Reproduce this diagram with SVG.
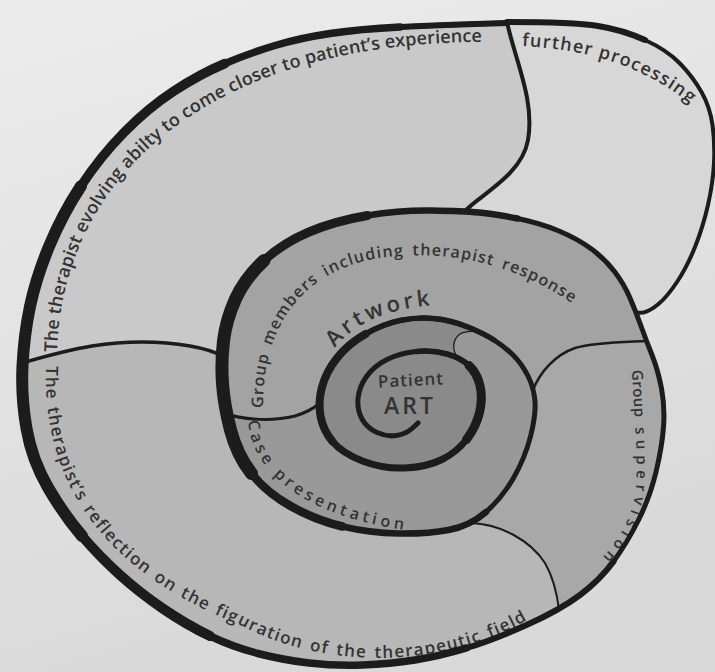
<svg xmlns="http://www.w3.org/2000/svg" width="715" height="672" viewBox="0 0 715 672">
<style>
.sp{fill:none;stroke:#1c1c1c;stroke-linecap:round;stroke-linejoin:round}
.dv{fill:none;stroke:#1c1c1c;stroke-linecap:round}
.lbl{font-family:"Open Sans","DejaVu Sans",sans-serif;font-weight:600;fill:#333}
</style>
<defs>
<linearGradient id="bg" x1="0" y1="0" x2="0.3" y2="1">
<stop offset="0" stop-color="#ececec"/>
<stop offset="1" stop-color="#d9d9d9"/>
</linearGradient>
<path id="tp1" d="M57,352 C60,250 110,165 200,110 S400,40 508,42"/>
<path id="tp2" d="M522,46 C580,49 645,62 702,114"/>
<path id="tp3" d="M46,366 C42,480 100,570 240,625 C335,675 465,668 552,604"/>
<path id="tp4" d="M263,408 C262,330 300,270 380,258 C440,250 510,258 582,310"/>
<path id="tp5" d="M248,421 C252,470 300,515 405,530"/>
<path id="tp6" d="M335,348 C355,322 390,306 452,304"/>
<path id="tp9" d="M632,370 C634,420 640,470 634,500 C628,530 605,560 576,580"/>
</defs>
<rect width="715" height="672" fill="url(#bg)"/>

<g id="therapist-evolving">
<path fill="#c9c9c9" d="M507,23 Q440,25 400,27 Q360,29 330,33.5 Q300,38 275,45.5 Q250,53 225,63.5 Q200,74 174,91 Q148,108 124,132.5 Q100,157 81,186 Q62,215 49,246.5 Q36,278 30,306.5 Q24,335 22.5,366 Q21,397 26.5,428.5 Q32,460 48,487.5 Q64,515 82,536 Q100,557 120,575 Q140,593 163.5,609 Q187,625 210,636 Q233,647 258,653.5 Q283,660 309,663 Q335,666 362.5,665 Q390,664 415,660 Q440,656 466.5,648 Q493,640 526.5,625 Q560,610 580,595 Q600,580 613.5,561.5 Q627,543 638.5,520 Q650,497 656,472 Q662,447 663.5,427 Q665,407 661.5,388.5 Q658,370 652,355 Q646,340 641,326 Q636,312 630,298 Q624,284 614.5,271.5 Q605,259 591.5,249 Q578,239 559,231 Q540,223 517.5,218.5 Q495,214 479,212.5 L465,211 C480,195 522,175 528,140 C535,100 515,60 507,22 Z"/>
<text class="lbl" font-size="18" letter-spacing="0.1"><textPath href="#tp1">The therapist evolving abilty to come closer to patient’s experience</textPath></text>
</g>

<g id="further-processing">
<path fill="#d7d7d7" d="M507,22 Q573,22 598,26 Q623,30 645,40 Q667,50 680,63.5 Q693,77 701.5,92 Q710,107 712.5,125 Q715,143 714,163 Q713,183 708,205 Q703,227 695,247 Q687,267 677,282 Q667,297 658.5,304 Q650,311 643.5,312.5 L636,313 L630,298 Q624,284 614.5,271.5 Q605,259 591.5,249 Q578,239 559,231 Q540,223 517.5,218.5 Q495,214 479,212.5 L465,211 C480,195 522,175 528,140 C535,100 515,60 507,22 Z"/>
<text class="lbl" font-size="18" letter-spacing="1.2"><textPath href="#tp2">further processing</textPath></text>
</g>

<g id="therapist-reflection">
<path fill="#b7b7b7" d="M22,363 Q67,350 92,346 Q117,342 142,342 Q167,342 190,346 Q213,350 224,357 L222.5,383.5 Q224,405 230.5,430 Q237,455 251.5,473.5 Q266,492 290.5,506 Q315,520 342.5,526.5 Q370,533 398.5,533.5 Q427,534 448.5,530 L471,523 C500,524 530,540 545,563 C553,577 557,593 559,610 L526.5,625 Q493,640 466.5,648 Q440,656 415,660 Q390,664 362.5,665 Q335,666 309,663 Q283,660 258,653.5 Q233,647 210,636 Q187,625 163.5,609 Q140,593 120,575 Q100,557 82,536 Q64,515 48,487.5 Q32,460 26.5,428.5 Q21,397 22.5,366 Z"/>
<text class="lbl" font-size="17" letter-spacing="1.3" word-spacing="2"><textPath href="#tp3">The therapist’s reflection on the figuration of the therapeutic field</textPath></text>
</g>

<g id="group-supervision">
<path fill="#a8a8a8" d="M471,523 C500,524 530,540 545,563 C553,577 557,593 559,610 L580,595 Q600,580 613.5,561.5 Q627,543 638.5,520 Q650,497 656,472 Q662,447 663.5,427 Q665,407 661.5,388.5 Q658,370 652,355 L646,341 C625,342 595,342 575,348 C555,355 540,372 533,390 L535,401.5 Q536,415 530.5,436.5 Q525,458 513.5,478 Q502,498 486,512 Z"/>
<text class="lbl" font-size="15"><textPath href="#tp9"><tspan letter-spacing="0.5">Group</tspan><tspan letter-spacing="5.5"> supervision</tspan></textPath></text>
</g>

<g id="group-members">
<path fill="#a3a3a3" d="M646,341 L641,326 Q636,312 630,298 Q624,284 614.5,271.5 Q605,259 591.5,249 Q578,239 559,231 Q540,223 517.5,218.5 Q495,214 479,212.5 Q463,211 431.5,210.5 Q400,210 367.5,215.5 Q335,221 309,232 Q283,243 264,260.5 Q245,278 235.5,299 Q226,320 223.5,341 Q221,362 222.5,383.5 Q224,405 230.5,430 Q237,455 251.5,473.5 Q266,492 290.5,506 Q315,520 342.5,526.5 Q370,533 398.5,533.5 Q427,534 448.5,530 Q470,526 486,512 Q502,498 513.5,478 Q525,458 530.5,436.5 Q536,415 535,401.5 L533,390 C540,372 555,355 575,348 C595,342 625,342 646,341 Z"/>
<text class="lbl" font-size="16" letter-spacing="1.2" word-spacing="3"><textPath href="#tp4">Group members including therapist response</textPath></text>
<text class="lbl" font-size="22" font-weight="700" letter-spacing="3.5"><textPath href="#tp6">Artwork</textPath></text>
</g>

<g id="case-presentation">
<path fill="#999999" d="M224,413 L230.5,430 Q237,455 251.5,473.5 Q266,492 290.5,506 Q315,520 342.5,526.5 Q370,533 398.5,533.5 Q427,534 448.5,530 Q470,526 486,512 Q502,498 513.5,478 Q525,458 530.5,436.5 Q536,415 535,401.5 Q534,388 528,376 Q522,364 513.5,355.5 Q505,347 494,340 Q483,333 466.5,326.5 Q450,320 433.5,318.5 Q417,317 400,320.5 Q383,324 365.5,334 Q348,344 337,358 Q326,372 322,387 L320,403 C313,409 305,413 295,416 C275,421 245,421 224,413 Z"/>
<text class="lbl" font-size="16" letter-spacing="4"><textPath href="#tp5">Case presentation</textPath></text>
</g>

<g id="patient-art">
<path fill="#8a8a8a" d="M481,332 L466.5,326.5 Q450,320 433.5,318.5 Q417,317 400,320.5 Q383,324 365.5,334 Q348,344 337,358 Q326,372 322,387 Q318,402 320.5,416 Q323,430 332.5,441.5 Q342,453 362.5,461 Q383,469 405,468 Q427,467 442,459.5 Q457,452 466.5,439.5 Q476,427 479.5,412.5 Q483,398 480,385.5 Q477,373 469,365.5 L458,359 C452,350 452,340 460,334 C466,330 474,331 481,332 Z"/>
<text class="lbl" font-size="17" letter-spacing="1" x="411" y="386" text-anchor="middle" transform="rotate(-3 411 380)">Patient</text>
<text class="lbl" font-size="23" letter-spacing="3" x="410" y="414" text-anchor="middle">ART</text>
</g>

<g id="connectors">
<path class="sp" stroke-width="5" d="M507,23 Q440,25 400,27 Q360,29 330,33.5 Q300,38 275,45.5 Q250,53 225,63.5 Q200,74 174,91 Q148,108 124,132.5 Q100,157 81,186 Q62,215 49,246.5 Q36,278 30,306.5 Q24,335 22.5,366 Q21,397 26.5,428.5 Q32,460 48,487.5 Q64,515 82,536 Q100,557 120,575 Q140,593 163.5,609 Q187,625 210,636 Q233,647 258,653.5 Q283,660 309,663 Q335,666 362.5,665 Q390,664 415,660 Q440,656 466.5,648 Q493,640 526.5,625 Q560,610 580,595 Q600,580 613.5,561.5 Q627,543 638.5,520 Q650,497 656,472 Q662,447 663.5,427 Q665,407 661.5,388.5 Q658,370 652,355 Q646,340 641,326 Q636,312 630,298 Q624,284 614.5,271.5 Q605,259 591.5,249 Q578,239 559,231 Q540,223 517.5,218.5 Q495,214 479,212.5 Q463,211 431.5,210.5 Q400,210 367.5,215.5 Q335,221 309,232 Q283,243 264,260.5 Q245,278 235.5,299 Q226,320 223.5,341 Q221,362 222.5,383.5 Q224,405 230.5,430 Q237,455 251.5,473.5 Q266,492 290.5,506 Q315,520 342.5,526.5 Q370,533 398.5,533.5 Q427,534 448.5,530 Q470,526 486,512 Q502,498 513.5,478 Q525,458 530.5,436.5 Q536,415 535,401.5 Q534,388 528,376 Q522,364 513.5,355.5 Q505,347 494,340 Q483,333 466.5,326.5 Q450,320 433.5,318.5 Q417,317 400,320.5 Q383,324 365.5,334 Q348,344 337,358 Q326,372 322,387 Q318,402 320.5,416 Q323,430 332.5,441.5 Q342,453 362.5,461 Q383,469 405,468 Q427,467 442,459.5 Q457,452 466.5,439.5 Q476,427 479.5,412.5 Q483,398 480,385.5 Q477,373 469,365.5 Q461,358 447,354 Q433,350 416.5,351.5 Q400,353 387,359.5 Q374,366 366.5,376.5 Q359,387 358,398.5 Q357,410 362,419 Q367,428 377,432.5 Q387,437 396.5,435.5 Q406,434 412,428.5 L418,423"/>
<path class="sp" stroke-width="6" d="M507,23 Q440,25 400,27"/>
<path class="sp" stroke-width="7.5" d="M400,27 Q360,29 330,33.5 Q300,38 275,45.5 Q250,53 225,63.5"/>
<path class="sp" stroke-width="9.5" d="M225,63.5 Q200,74 174,91 Q148,108 124,132.5 Q100,157 81,186"/>
<path class="sp" stroke-width="12" d="M81,186 Q62,215 49,246.5 Q36,278 30,306.5 Q24,335 22.5,366 Q21,397 26.5,428.5 Q32,460 48,487.5 Q64,515 82,536"/>
<path class="sp" stroke-width="10" d="M82,536 Q100,557 120,575 Q140,593 163.5,609 Q187,625 210,636"/>
<path class="sp" stroke-width="7.5" d="M210,636 Q233,647 258,653.5 Q283,660 309,663 Q335,666 362.5,665 Q390,664 415,660 Q440,656 466.5,648"/>
<path class="sp" stroke-width="6" d="M466.5,648 Q493,640 526.5,625 Q560,610 580,595 Q600,580 613.5,561.5"/>
<path class="sp" stroke-width="6.5" d="M517.5,218.5 Q495,214 479,212.5 Q463,211 431.5,210.5 Q400,210 367.5,215.5"/>
<path class="sp" stroke-width="9" d="M367.5,215.5 Q335,221 309,232 Q283,243 264,260.5"/>
<path class="sp" stroke-width="13" d="M264,260.5 Q245,278 235.5,299 Q226,320 223.5,341 Q221,362 222.5,383.5 Q224,405 230.5,430 Q237,455 251.5,473.5"/>
<path class="sp" stroke-width="8.5" d="M251.5,473.5 Q266,492 290.5,506 Q315,520 342.5,526.5"/>
<path class="sp" stroke-width="6.5" d="M342.5,526.5 Q370,533 398.5,533.5 Q427,534 448.5,530 Q470,526 486,512"/>
<path class="sp" stroke-width="5.5" d="M494,340 Q483,333 466.5,326.5 Q450,320 433.5,318.5 Q417,317 400,320.5 Q383,324 365.5,334"/>
<path class="sp" stroke-width="8" d="M365.5,334 Q348,344 337,358 Q326,372 322,387 Q318,402 320.5,416 Q323,430 332.5,441.5"/>
<path class="sp" stroke-width="7" d="M332.5,441.5 Q342,453 362.5,461 Q383,469 405,468 Q427,467 442,459.5 Q457,452 466.5,439.5"/>
<path class="sp" stroke-width="9" d="M466.5,439.5 Q476,427 479.5,412.5 Q483,398 480,385.5 Q477,373 469,365.5"/>
<path class="sp" stroke-width="5.5" d="M469,365.5 Q461,358 447,354 Q433,350 416.5,351.5"/>
<path class="sp" stroke-width="4" d="M507,22 Q573,22 598,26 Q623,30 645,40 Q667,50 680,63.5 Q693,77 701.5,92 Q710,107 712.5,125 Q715,143 714,163 Q713,183 708,205 Q703,227 695,247 Q687,267 677,282 Q667,297 658.5,304 Q650,311 643.5,312.5 L636,313"/>
<path class="sp" stroke-width="6" d="M507,22 Q573,22 598,26 Q623,30 645,40"/>
<path class="dv" stroke-width="4" d="M507,22 C515,60 535,100 528,140 C522,175 480,195 465,211"/>
<path class="dv" stroke-width="3.5" d="M22,363 Q67,350 92,346 Q117,342 142,342 Q167,342 190,346 Q213,350 224,357"/>
<path class="dv" stroke-width="2" d="M471,523 C500,524 530,540 545,563 C553,577 557,593 559,610"/>
<path class="dv" stroke-width="2.5" d="M533,390 C540,372 555,355 575,348 C595,342 625,342 646,341"/>
<path class="dv" stroke-width="3" d="M224,413 C245,421 275,421 295,416 C305,413 313,409 320,403"/>
<path class="dv" stroke-width="1.3" d="M458,359 C452,350 452,340 460,334 C466,330 474,331 481,332"/>
</g>
</svg>
